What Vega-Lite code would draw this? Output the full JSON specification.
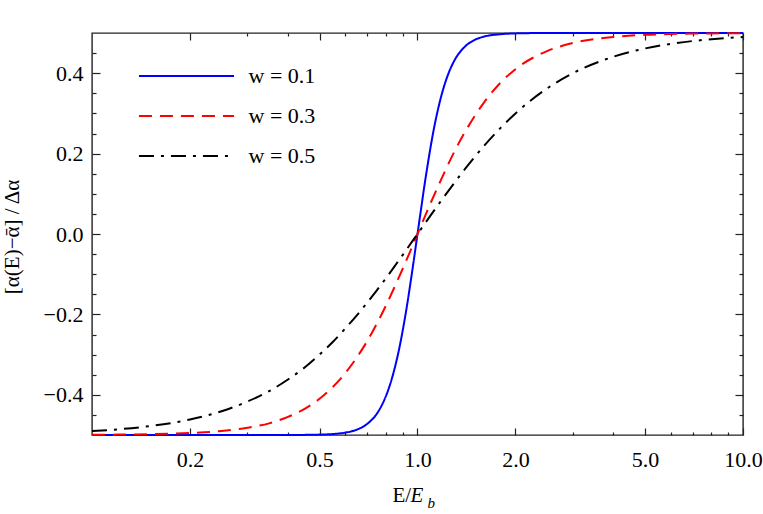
{
  "$schema": "https://vega.github.io/schema/vega-lite/v6.json",
  "width": 651,
  "height": 402,
  "autosize": "none",
  "padding": {"left": 92, "top": 33, "right": 20, "bottom": 79},
  "background": "white",
  "config": {
    "view": {"stroke": "#222", "strokeWidth": 1.4},
    "font": "Liberation Serif",
    "axis": {
      "domain": false,
      "grid": false,
      "tickColor": "#222",
      "tickWidth": 1.2,
      "labelFont": "Liberation Serif",
      "labelFontSize": 22,
      "labelColor": "black",
      "titleFont": "Liberation Serif",
      "titleColor": "black",
      "titleFontWeight": "normal",
      "labelFlush": false,
      "labelOverlap": false
    }
  },
  "data": {
    "values": [
      {"x": 0.1, "y": -0.5, "w": "w = 0.1"},
      {"x": 0.2, "y": -0.5, "w": "w = 0.1"},
      {"x": 0.3, "y": -0.5, "w": "w = 0.1"},
      {"x": 0.4, "y": -0.5, "w": "w = 0.1"},
      {"x": 0.45, "y": -0.4997, "w": "w = 0.1"},
      {"x": 0.5, "y": -0.499, "w": "w = 0.1"},
      {"x": 0.55, "y": -0.4975, "w": "w = 0.1"},
      {"x": 0.6, "y": -0.494, "w": "w = 0.1"},
      {"x": 0.65, "y": -0.487, "w": "w = 0.1"},
      {"x": 0.7, "y": -0.4725, "w": "w = 0.1"},
      {"x": 0.75, "y": -0.447, "w": "w = 0.1"},
      {"x": 0.775, "y": -0.4275, "w": "w = 0.1"},
      {"x": 0.8, "y": -0.403, "w": "w = 0.1"},
      {"x": 0.825, "y": -0.3725, "w": "w = 0.1"},
      {"x": 0.85, "y": -0.3355, "w": "w = 0.1"},
      {"x": 0.875, "y": -0.292, "w": "w = 0.1"},
      {"x": 0.9, "y": -0.2415, "w": "w = 0.1"},
      {"x": 0.925, "y": -0.186, "w": "w = 0.1"},
      {"x": 0.95, "y": -0.1255, "w": "w = 0.1"},
      {"x": 0.975, "y": -0.063, "w": "w = 0.1"},
      {"x": 1.0, "y": 0.0, "w": "w = 0.1"},
      {"x": 1.025, "y": 0.061, "w": "w = 0.1"},
      {"x": 1.05, "y": 0.12, "w": "w = 0.1"},
      {"x": 1.075, "y": 0.173, "w": "w = 0.1"},
      {"x": 1.1, "y": 0.222, "w": "w = 0.1"},
      {"x": 1.125, "y": 0.265, "w": "w = 0.1"},
      {"x": 1.15, "y": 0.302, "w": "w = 0.1"},
      {"x": 1.2, "y": 0.361, "w": "w = 0.1"},
      {"x": 1.25, "y": 0.403, "w": "w = 0.1"},
      {"x": 1.3, "y": 0.4325, "w": "w = 0.1"},
      {"x": 1.4, "y": 0.4665, "w": "w = 0.1"},
      {"x": 1.5, "y": 0.483, "w": "w = 0.1"},
      {"x": 1.6, "y": 0.491, "w": "w = 0.1"},
      {"x": 1.8, "y": 0.497, "w": "w = 0.1"},
      {"x": 2.0, "y": 0.499, "w": "w = 0.1"},
      {"x": 2.5, "y": 0.5, "w": "w = 0.1"},
      {"x": 3.0, "y": 0.5, "w": "w = 0.1"},
      {"x": 5.0, "y": 0.5, "w": "w = 0.1"},
      {"x": 10.0, "y": 0.5, "w": "w = 0.1"},

      {"x": 0.1, "y": -0.4995, "w": "w = 0.3"},
      {"x": 0.12, "y": -0.499, "w": "w = 0.3"},
      {"x": 0.15, "y": -0.498, "w": "w = 0.3"},
      {"x": 0.2, "y": -0.495, "w": "w = 0.3"},
      {"x": 0.25, "y": -0.490, "w": "w = 0.3"},
      {"x": 0.3, "y": -0.482, "w": "w = 0.3"},
      {"x": 0.35, "y": -0.471, "w": "w = 0.3"},
      {"x": 0.4, "y": -0.455, "w": "w = 0.3"},
      {"x": 0.45, "y": -0.435, "w": "w = 0.3"},
      {"x": 0.5, "y": -0.410, "w": "w = 0.3"},
      {"x": 0.55, "y": -0.380, "w": "w = 0.3"},
      {"x": 0.6, "y": -0.346, "w": "w = 0.3"},
      {"x": 0.65, "y": -0.308, "w": "w = 0.3"},
      {"x": 0.7, "y": -0.267, "w": "w = 0.3"},
      {"x": 0.75, "y": -0.223, "w": "w = 0.3"},
      {"x": 0.8, "y": -0.178, "w": "w = 0.3"},
      {"x": 0.85, "y": -0.132, "w": "w = 0.3"},
      {"x": 0.9, "y": -0.087, "w": "w = 0.3"},
      {"x": 0.95, "y": -0.043, "w": "w = 0.3"},
      {"x": 1.0, "y": 0.0, "w": "w = 0.3"},
      {"x": 1.1, "y": 0.079, "w": "w = 0.3"},
      {"x": 1.2, "y": 0.147, "w": "w = 0.3"},
      {"x": 1.3, "y": 0.206, "w": "w = 0.3"},
      {"x": 1.4, "y": 0.254, "w": "w = 0.3"},
      {"x": 1.5, "y": 0.294, "w": "w = 0.3"},
      {"x": 1.6, "y": 0.327, "w": "w = 0.3"},
      {"x": 1.8, "y": 0.3765, "w": "w = 0.3"},
      {"x": 2.0, "y": 0.410, "w": "w = 0.3"},
      {"x": 2.5, "y": 0.455, "w": "w = 0.3"},
      {"x": 3.0, "y": 0.475, "w": "w = 0.3"},
      {"x": 4.0, "y": 0.490, "w": "w = 0.3"},
      {"x": 5.0, "y": 0.4955, "w": "w = 0.3"},
      {"x": 6.0, "y": 0.4975, "w": "w = 0.3"},
      {"x": 7.0, "y": 0.4985, "w": "w = 0.3"},
      {"x": 8.0, "y": 0.499, "w": "w = 0.3"},
      {"x": 10.0, "y": 0.4995, "w": "w = 0.3"},

      {"x": 0.1, "y": -0.490, "w": "w = 0.5"},
      {"x": 0.12, "y": -0.486, "w": "w = 0.5"},
      {"x": 0.15, "y": -0.478, "w": "w = 0.5"},
      {"x": 0.2, "y": -0.4615, "w": "w = 0.5"},
      {"x": 0.25, "y": -0.441, "w": "w = 0.5"},
      {"x": 0.3, "y": -0.417, "w": "w = 0.5"},
      {"x": 0.35, "y": -0.391, "w": "w = 0.5"},
      {"x": 0.4, "y": -0.362, "w": "w = 0.5"},
      {"x": 0.45, "y": -0.332, "w": "w = 0.5"},
      {"x": 0.5, "y": -0.300, "w": "w = 0.5"},
      {"x": 0.55, "y": -0.268, "w": "w = 0.5"},
      {"x": 0.6, "y": -0.235, "w": "w = 0.5"},
      {"x": 0.65, "y": -0.203, "w": "w = 0.5"},
      {"x": 0.7, "y": -0.171, "w": "w = 0.5"},
      {"x": 0.75, "y": -0.140, "w": "w = 0.5"},
      {"x": 0.8, "y": -0.110, "w": "w = 0.5"},
      {"x": 0.85, "y": -0.0805, "w": "w = 0.5"},
      {"x": 0.9, "y": -0.0525, "w": "w = 0.5"},
      {"x": 0.95, "y": -0.0255, "w": "w = 0.5"},
      {"x": 1.0, "y": 0.0, "w": "w = 0.5"},
      {"x": 1.1, "y": 0.0475, "w": "w = 0.5"},
      {"x": 1.2, "y": 0.090, "w": "w = 0.5"},
      {"x": 1.3, "y": 0.128, "w": "w = 0.5"},
      {"x": 1.4, "y": 0.162, "w": "w = 0.5"},
      {"x": 1.5, "y": 0.192, "w": "w = 0.5"},
      {"x": 1.6, "y": 0.219, "w": "w = 0.5"},
      {"x": 1.8, "y": 0.264, "w": "w = 0.5"},
      {"x": 2.0, "y": 0.300, "w": "w = 0.5"},
      {"x": 2.5, "y": 0.362, "w": "w = 0.5"},
      {"x": 3.0, "y": 0.400, "w": "w = 0.5"},
      {"x": 4.0, "y": 0.441, "w": "w = 0.5"},
      {"x": 5.0, "y": 0.4615, "w": "w = 0.5"},
      {"x": 6.0, "y": 0.473, "w": "w = 0.5"},
      {"x": 7.0, "y": 0.480, "w": "w = 0.5"},
      {"x": 8.0, "y": 0.4845, "w": "w = 0.5"},
      {"x": 10.0, "y": 0.490, "w": "w = 0.5"}
    ]
  },
  "layer": [
    {
      "mark": {"type": "line", "strokeWidth": 2, "interpolate": "monotone"},
      "encoding": {
        "x": {
          "field": "x",
          "type": "quantitative",
          "scale": {"type": "log", "domain": [0.1, 10], "nice": false},
          "axis": {
            "orient": "bottom",
            "values": [0.2, 0.5, 1, 2, 5, 10],
            "format": ".1f",
            "offset": -7,
            "tickSize": 7,
            "labelPadding": 14,
            "title": "E/",
            "titleFontSize": 21,
            "titleAlign": "left",
            "titleBaseline": "alphabetic",
            "titleX": 300,
            "titleY": 73
          }
        },
        "y": {
          "field": "y",
          "type": "quantitative",
          "scale": {"domain": [-0.5, 0.5], "nice": false, "zero": false},
          "axis": {
            "orient": "left",
            "values": [-0.4, -0.2, 0, 0.2, 0.4],
            "format": ".1f",
            "offset": -8,
            "tickSize": 8,
            "labelPadding": 9,
            "title": "[α(E)−ᾱ] / Δα",
            "titleFontSize": 21,
            "titleAngle": 270,
            "titleAlign": "center",
            "titleBaseline": "bottom",
            "titleX": -78,
            "titleY": 203.5
          }
        },
        "color": {
          "field": "w",
          "type": "nominal",
          "scale": {"domain": ["w = 0.1", "w = 0.3", "w = 0.5"], "range": ["#0000ff", "#ff0000", "#000000"]},
          "legend": {
            "title": null,
            "orient": "none",
            "legendX": 46,
            "legendY": 27,
            "padding": 0,
            "symbolType": "M-3.17,0H3.17",
            "symbolSize": 900,
            "symbolStrokeWidth": 2,
            "symbolOffset": 32.5,
            "labelOffset": 46,
            "rowPadding": 13,
            "labelFont": "Liberation Serif",
            "labelFontSize": 22,
            "labelColor": "black"
          }
        },
        "strokeDash": {
          "field": "w",
          "type": "nominal",
          "scale": {"domain": ["w = 0.1", "w = 0.3", "w = 0.5"], "range": [[1, 0], [13, 8], [15, 7, 3, 7]]},
          "legend": {
            "title": null,
            "orient": "none",
            "legendX": 46,
            "legendY": 27,
            "padding": 0,
            "symbolType": "M-3.17,0H3.17",
            "symbolSize": 900,
            "symbolStrokeWidth": 2,
            "symbolOffset": 32.5,
            "labelOffset": 46,
            "rowPadding": 13,
            "labelFont": "Liberation Serif",
            "labelFontSize": 22,
            "labelColor": "black"
          }
        }
      }
    },
    {
      "mark": {"type": "line", "opacity": 0},
      "encoding": {
        "x": {
          "field": "x",
          "type": "quantitative",
          "scale": {"type": "log", "domain": [0.1, 10], "nice": false},
          "axis": {
            "orient": "bottom",
            "values": [0.3, 0.4, 0.6, 0.7, 0.8, 0.9, 3, 4, 6, 7, 8, 9],
            "labels": false,
            "offset": -3,
            "tickSize": 3,
            "title": "E",
            "titleFontSize": 21,
            "titleFontStyle": "italic",
            "titleAlign": "left",
            "titleBaseline": "alphabetic",
            "titleX": 318,
            "titleY": 69
          }
        },
        "y": {
          "field": "y",
          "type": "quantitative",
          "scale": {"domain": [-0.5, 0.5], "nice": false, "zero": false},
          "axis": {
            "orient": "left",
            "values": [-0.45, -0.35, -0.3, -0.25, -0.15, -0.1, -0.05, 0.05, 0.1, 0.15, 0.25, 0.3, 0.35, 0.45],
            "labels": false,
            "offset": -4,
            "tickSize": 4,
            "title": null
          }
        }
      }
    },
    {
      "mark": {"type": "line", "opacity": 0},
      "encoding": {
        "x": {
          "field": "x",
          "type": "quantitative",
          "scale": {"type": "log", "domain": [0.1, 10], "nice": false},
          "axis": {
            "orient": "top",
            "values": [0.2, 0.5, 1, 2, 5, 10],
            "labels": false,
            "offset": -7,
            "tickSize": 7,
            "title": "b",
            "titleFontSize": 15,
            "titleFontStyle": "italic",
            "titleAlign": "left",
            "titleBaseline": "alphabetic",
            "titleX": 335,
            "titleY": 467
          }
        },
        "y": {
          "field": "y",
          "type": "quantitative",
          "scale": {"domain": [-0.5, 0.5], "nice": false, "zero": false},
          "axis": {
            "orient": "right",
            "values": [-0.4, -0.2, 0, 0.2, 0.4],
            "labels": false,
            "offset": -8,
            "tickSize": 8,
            "title": null
          }
        }
      }
    },
    {
      "mark": {"type": "line", "opacity": 0},
      "encoding": {
        "x": {
          "field": "x",
          "type": "quantitative",
          "scale": {"type": "log", "domain": [0.1, 10], "nice": false},
          "axis": {
            "orient": "top",
            "values": [0.3, 0.4, 0.6, 0.7, 0.8, 0.9, 3, 4, 6, 7, 8, 9],
            "labels": false,
            "offset": -3,
            "tickSize": 3,
            "title": null
          }
        },
        "y": {
          "field": "y",
          "type": "quantitative",
          "scale": {"domain": [-0.5, 0.5], "nice": false, "zero": false},
          "axis": {
            "orient": "right",
            "values": [-0.45, -0.35, -0.3, -0.25, -0.15, -0.1, -0.05, 0.05, 0.1, 0.15, 0.25, 0.3, 0.35, 0.45],
            "labels": false,
            "offset": -4,
            "tickSize": 4,
            "title": null
          }
        }
      }
    }
  ],
  "resolve": {"axis": {"x": "independent", "y": "independent"}}
}
